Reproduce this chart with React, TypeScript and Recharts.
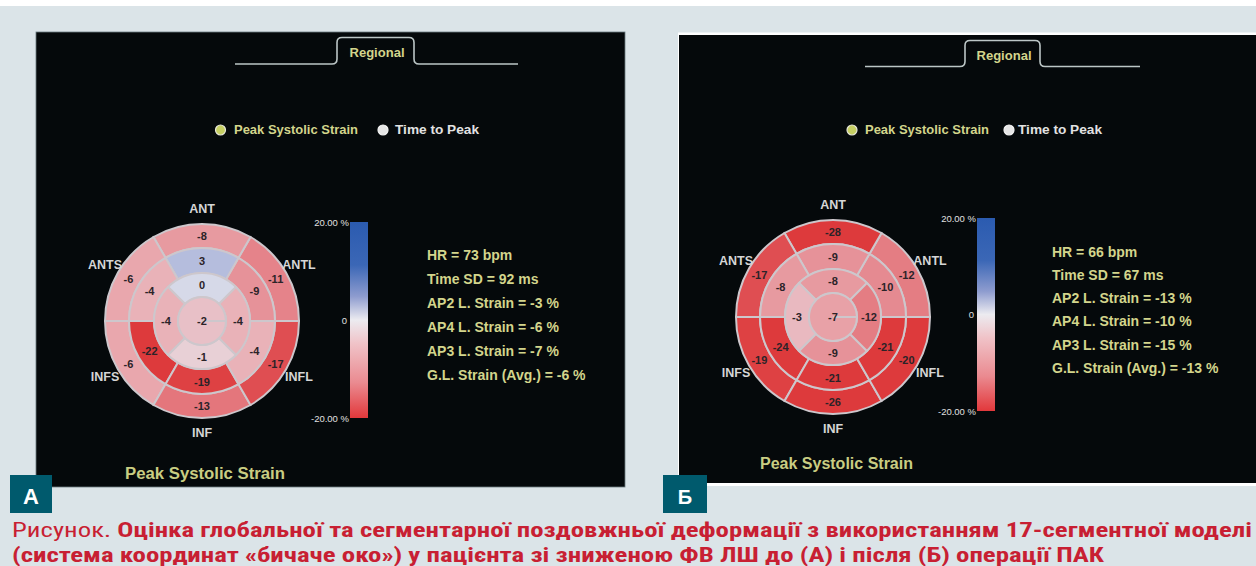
import React from 'react';
import { PieChart, Pie, Cell } from 'recharts';

const W = 1256;
const H = 566;

// ---------- data ----------
// ring order: counter-clockwise starting at 3 o'clock (0°)
const basalRegions = ['ANTL', 'ANT', 'ANTS', 'INFS', 'INF', 'INFL'];
const midRegions = ['ANTL', 'ANT', 'ANTS', 'INFS', 'INF', 'INFL'];
const apicalRegions = ['ANT', 'SEPT', 'INF', 'LAT'];
const apexRegions = ['APEX'];

const basalA = [-11, -8, -6, -6, -13, -17];
const midA = [-9, 3, -4, -22, -19, -4];
const apicalA = [0, -4, -1, -4];
const apexA = [-2];

const basalB = [-12, -28, -17, -19, -26, -20];
const midB = [-10, -9, -8, -24, -21, -21];
const apicalB = [-8, -3, -9, -12];
const apexB = [-7];

const statsA = ['HR = 73 bpm', 'Time SD = 92 ms', 'AP2 L. Strain = -3 %', 'AP4 L. Strain = -6 %', 'AP3 L. Strain = -7 %', 'G.L. Strain (Avg.) = -6 %'];
const statsB = ['HR = 66 bpm', 'Time SD = 67 ms', 'AP2 L. Strain = -13 %', 'AP4 L. Strain = -10 %', 'AP3 L. Strain = -15 %', 'G.L. Strain (Avg.) = -13 %'];

const scaleTicks = ['20.00 %', '0', '-20.00 %'];
const legendItems = ['Peak Systolic Strain', 'Time to Peak'];
const tabLabel = 'Regional';
const panelTitle = 'Peak Systolic Strain';
const panelLetters = ['А', 'Б'];
const captionLead = 'Рисунок. ';
const captionLine1 = 'Оцінка глобальної та сегментарної поздовжньої деформації з використанням 17-сегментної моделі';
const captionLine2 = '(система координат «бичаче око») у пацієнта зі зниженою ФВ ЛШ до (А) і після (Б) операції ПАК';

// ---------- colour scale ----------
const colorStops: [number, number[]][] = [
  [-20, [221, 58, 60]],
  [-17, [223, 78, 82]],
  [-13, [228, 118, 124]],
  [-10, [229, 138, 145]],
  [-8, [231, 154, 160]],
  [-6, [233, 167, 173]],
  [-4, [233, 178, 184]],
  [-2, [232, 192, 199]],
  [-1, [232, 208, 214]],
  [0, [214, 217, 232]],
  [3, [181, 189, 221]],
  [20, [44, 92, 176]],
];

function strainColor(v: number): string {
  const x = Math.max(-20, Math.min(20, v));
  for (let i = 0; i < colorStops.length - 1; i++) {
    const [a, ca] = colorStops[i];
    const [b, cb] = colorStops[i + 1];
    if (x >= a && x <= b) {
      const t = b === a ? 0 : (x - a) / (b - a);
      const c = ca.map((ch, k) => Math.round(ch + (cb[k] - ch) * t));
      return `rgb(${c[0]},${c[1]},${c[2]})`;
    }
  }
  return 'rgb(214,217,232)';
}

const toData = (vals: number[], names: string[]) =>
  vals.map((v, i) => ({ name: names[i], size: 1, strain: v }));

const FONT = "'Liberation Sans', Arial, Helvetica, sans-serif";
const YELLOW = '#d3d58c';

const RAD = Math.PI / 180;

const makeLabel = (showName: boolean) => (props: any) => {
  const { cx, cy, midAngle, innerRadius, outerRadius, index } = props;
  const payload = props.payload || {};
  const strain = payload.strain ?? props.strain;
  const name = payload.name ?? props.name;
  const r = innerRadius === 0 ? 0 : (innerRadius + outerRadius) / 2;
  const x = cx + r * Math.cos(-midAngle * RAD);
  const y = cy + r * Math.sin(-midAngle * RAD);
  const rn = outerRadius + 15;
  const nx = cx + rn * Math.cos(-midAngle * RAD);
  const ny = cy + rn * Math.sin(-midAngle * RAD);
  return (
    <g key={`lbl-${index}`}>
      <text x={x} y={y} textAnchor="middle" dominantBaseline="central" fill="#2b2328" fontSize={11} fontWeight={700} fontFamily={FONT}>
        {strain}
      </text>
      {showName ? (
        <text x={nx} y={ny} textAnchor="middle" dominantBaseline="central" fill="#d6d6d6" fontSize={12.5} fontWeight={700} fontFamily={FONT}>
          {name}
        </text>
      ) : null}
    </g>
  );
};

type PanelCfg = {
  cx: number;
  cy: number;
  basal: number[];
  mid: number[];
  apical: number[];
  apex: number[];
};

const panels: PanelCfg[] = [
  { cx: 202, cy: 321, basal: basalA, mid: midA, apical: apicalA, apex: apexA },
  { cx: 833, cy: 317, basal: basalB, mid: midB, apical: apicalB, apex: apexB },
];

const R = { basal: [73, 97], mid: [48, 73], apical: [24, 48], apex: [0, 24] };
const SEG_STROKE = '#cdc7cc';

function ringPie(key: string, cx: number, cy: number, vals: number[], names: string[], ir: number, or: number, start: number, showName: boolean) {
  const data = toData(vals, names);
  return (
    <Pie
      key={key}
      data={data}
      dataKey="size"
      nameKey="name"
      cx={cx}
      cy={cy}
      innerRadius={ir}
      outerRadius={or}
      startAngle={start}
      endAngle={start + 360}
      stroke={SEG_STROKE}
      strokeWidth={2}
      isAnimationActive={false}
      labelLine={false}
      label={makeLabel(showName)}
    >
      {data.map((d, i) => (
        <Cell key={`c-${key}-${i}`} fill={strainColor(d.strain)} stroke={SEG_STROKE} strokeWidth={2} />
      ))}
    </Pie>
  );
}

function Tab({ x0, x1, x2, x3, yLine, yTop, cx, ty }: any) {
  const r = 5;
  const d = `M${x0},${yLine} H${x1 - r} Q${x1},${yLine} ${x1},${yLine - r} V${yTop + r} Q${x1},${yTop} ${x1 + r},${yTop} H${x2 - r} Q${x2},${yTop} ${x2},${yTop + r} V${yLine - r} Q${x2},${yLine} ${x2 + r},${yLine} H${x3}`;
  return (
    <g>
      <path d={d} fill="none" stroke="#bcc6c6" strokeWidth={1.6} />
      <text x={cx} y={ty} textAnchor="middle" dominantBaseline="central" fill={YELLOW} fontSize={12} fontWeight={700} fontFamily={FONT} textLength={55} lengthAdjust="spacingAndGlyphs">
        {tabLabel}
      </text>
    </g>
  );
}

function Legend({ c1, t1, c2, t2, y }: any) {
  return (
    <g>
      <circle cx={c1} cy={y} r={5} fill="#c6cf63" stroke="#e6e6d8" strokeWidth={1.2} />
      <text x={t1} y={y} dominantBaseline="central" fill={YELLOW} fontSize={12.5} fontWeight={700} fontFamily={FONT} textLength={124} lengthAdjust="spacingAndGlyphs">
        {legendItems[0]}
      </text>
      <circle cx={c2} cy={y} r={5} fill="#e6e6e6" stroke="#f4f4f4" strokeWidth={1.2} />
      <text x={t2} y={y} dominantBaseline="central" fill="#e2e2e2" fontSize={12.5} fontWeight={700} fontFamily={FONT} textLength={84} lengthAdjust="spacingAndGlyphs">
        {legendItems[1]}
      </text>
    </g>
  );
}

function ColorBar({ x, y0, y1, lx, id }: any) {
  const ym = (y0 + y1) / 2;
  return (
    <g>
      <rect x={x} y={y0} width={18} height={y1 - y0} fill={`url(#${id})`} />
      <text x={lx} y={y0} textAnchor="end" dominantBaseline="central" fill="#e0e0e0" fontSize={9.5} fontFamily={FONT}>{scaleTicks[0]}</text>
      <text x={lx - 2} y={ym} textAnchor="end" dominantBaseline="central" fill="#e0e0e0" fontSize={9.5} fontFamily={FONT}>{scaleTicks[1]}</text>
      <text x={lx} y={y1} textAnchor="end" dominantBaseline="central" fill="#e0e0e0" fontSize={9.5} fontFamily={FONT}>{scaleTicks[2]}</text>
    </g>
  );
}

function Stats({ x, y0, dy, lines }: any) {
  return (
    <g>
      {lines.map((s: string, i: number) => (
        <text key={i} x={x} y={y0 + i * dy} dominantBaseline="central" fill={YELLOW} fontSize={14} fontWeight={700} fontFamily={FONT}>
          {s}
        </text>
      ))}
    </g>
  );
}

function GradientDef({ id }: { id: string }) {
  return (
    <linearGradient id={id} x1="0" y1="0" x2="0" y2="1">
      <stop offset="0%" stopColor="#2b5bb0" />
      <stop offset="22%" stopColor="#3b67b6" />
      <stop offset="38%" stopColor="#8e9ccf" />
      <stop offset="50%" stopColor="#ecebf0" />
      <stop offset="62%" stopColor="#f0c3c8" />
      <stop offset="82%" stopColor="#ea8a90" />
      <stop offset="100%" stopColor="#e2383b" />
    </linearGradient>
  );
}

export default function App() {
  return (
    <div style={{ position: 'absolute', left: 0, top: 0, width: W, height: H, overflow: 'hidden' }}>
      <svg width={W} height={H} style={{ position: 'absolute', left: 0, top: 0 }}>
        <defs>
          <GradientDef id="gbarA" />
          <GradientDef id="gbarB" />
        </defs>
        <rect x={0} y={0} width={W} height={H} fill="#dbe4e8" />
        <rect x={0} y={0} width={W} height={6} fill="#ffffff" />
        {/* panel A */}
        <rect x={36} y={32} width={589} height={455} fill="#05090b" stroke="#6b7a80" strokeWidth={0.8} />
        {/* panel B */}
        <rect x={678} y={32.5} width={578} height={453.5} fill="#ffffff" />
        <rect x={679} y={35} width={577} height={448} fill="#05090b" />

        <Tab x0={235} x1={337} x2={414} x3={518} yLine={64} yTop={37.5} cx={377} ty={52.5} />
        <Tab x0={865} x1={965} x2={1040} x3={1140} yLine={66.5} yTop={40.5} cx={1004} ty={55.5} />

        <Legend c1={220.5} t1={234} c2={383} t2={395} y={130} />
        <Legend c1={852} t1={865} c2={1009} t2={1018} y={130} />

        <ColorBar x={350} y0={222} y1={418} lx={349} id="gbarA" />
        <ColorBar x={977} y0={218} y1={411} lx={976} id="gbarB" />

        <Stats x={427} y0={255} dy={24} lines={statsA} />
        <Stats x={1052} y0={251.5} dy={23.3} lines={statsB} />

        <text x={125} y={473} dominantBaseline="central" fill="#c9cd82" fontSize={16} fontWeight={700} fontFamily={FONT} textLength={160} lengthAdjust="spacingAndGlyphs">
          {panelTitle}
        </text>
        <text x={760} y={463} dominantBaseline="central" fill="#c9cd82" fontSize={16} fontWeight={700} fontFamily={FONT} textLength={153} lengthAdjust="spacingAndGlyphs">
          {panelTitle}
        </text>

        <rect x={10} y={475} width={42} height={38} fill="#005a6d" />
        <text x={31} y={496} textAnchor="middle" dominantBaseline="central" fill="#ffffff" fontSize={22} fontWeight={700} fontFamily={FONT}>
          {panelLetters[0]}
        </text>
        <rect x={663} y={475} width={44} height={38} fill="#005a6d" />
        <text x={685} y={497} textAnchor="middle" dominantBaseline="central" fill="#ffffff" fontSize={20} fontWeight={700} fontFamily={FONT}>
          {panelLetters[1]}
        </text>

        <text x={12} y={537} fill="#c81f33" fontSize={20} fontFamily="'Liberation Sans Narrow', 'Roboto Condensed', 'Liberation Sans', sans-serif" textLength={1240} lengthAdjust="spacingAndGlyphs">
          <tspan fontWeight={400}>{captionLead}</tspan>
          <tspan fontWeight={700}>{captionLine1}</tspan>
        </text>
        <text x={12} y={562} fill="#c81f33" fontSize={20} fontWeight={700} fontFamily="'Liberation Sans Narrow', 'Roboto Condensed', 'Liberation Sans', sans-serif" textLength={1092} lengthAdjust="spacingAndGlyphs">
          {captionLine2}
        </text>
      </svg>

      <div style={{ position: 'absolute', left: 0, top: 0 }}>
        <PieChart width={W} height={H} margin={{ top: 0, right: 0, bottom: 0, left: 0 }}>
          {panels.flatMap((p, pi) => [
            ringPie(`b${pi}`, p.cx, p.cy, p.basal, basalRegions, R.basal[0], R.basal[1], 0, true),
            ringPie(`m${pi}`, p.cx, p.cy, p.mid, midRegions, R.mid[0], R.mid[1], 0, false),
            ringPie(`a${pi}`, p.cx, p.cy, p.apical, apicalRegions, R.apical[0], R.apical[1], 45, false),
            ringPie(`x${pi}`, p.cx, p.cy, p.apex, apexRegions, R.apex[0], R.apex[1], 0, false),
          ])}
        </PieChart>
      </div>
    </div>
  );
}
